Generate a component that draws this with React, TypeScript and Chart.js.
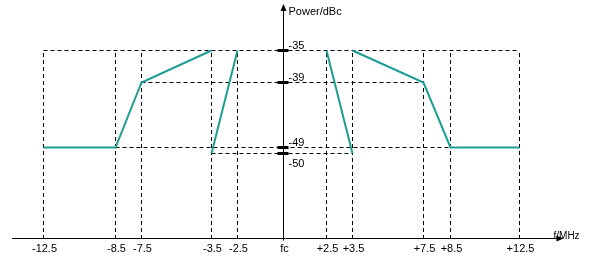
import React, { useEffect, useRef } from 'react';
import { Chart, registerables, LinearScale } from 'chart.js';

// Piecewise-linear scale: the reference uses a stylised (non-proportional) axis.
class PiecewiseScale extends (LinearScale as any) {
  static id = 'piecewise';
  static defaults = { ...(LinearScale as any).defaults };
  _u(v: number): number {
    const o = (this as any).options;
    const knots: number[] = o.knots;
    const spans: number[] = o.spans;
    const slope: number = o.outerSlope;
    if (v <= knots[0]) return (v - knots[0]) * slope;
    let acc = 0;
    for (let i = 0; i < knots.length - 1; i++) {
      if (v <= knots[i + 1]) {
        return acc + ((v - knots[i]) / (knots[i + 1] - knots[i])) * spans[i];
      }
      acc += spans[i];
    }
    return acc + (v - knots[knots.length - 1]) * slope;
  }
  getPixelForValue(value: number) {
    if (value === null || value === undefined || isNaN(value)) return NaN;
    const self = this as any;
    const u0 = this._u(self.min);
    const u1 = this._u(self.max);
    return self.getPixelForDecimal((this._u(value) - u0) / (u1 - u0));
  }
  getValueForPixel(pixel: number) {
    const self = this as any;
    const d = self.getDecimalForPixel(pixel);
    return self.min + d * (self.max - self.min);
  }
}

Chart.register(...registerables, PiecewiseScale as any);

// ---- data ----
const freqTicks = [-12.5, -8.5, -7.5, -3.5, -2.5, 0, 2.5, 3.5, 7.5, 8.5, 12.5];
const freqLabels = ['-12.5', '-8.5', '-7.5', '-3.5', '-2.5', 'fc', '+2.5', '+3.5', '+7.5', '+8.5', '+12.5'];
const powerTicks = [-35, -39, -49, -50];
const powerLabels = ['-35', '-39', '-49', '-50'];
const powerLabelBelow = [false, false, false, true];

// mask segments (teal)
const outerLowFreq = [-12.5, -8.5, -7.5, -3.5];
const outerLowPower = [-49, -49, -39, -35];
const innerLowFreq = [-3.5, -2.5];
const innerLowPower = [-50, -35];
const innerHighFreq = [2.5, 3.5];
const innerHighPower = [-35, -50];
const outerHighFreq = [3.5, 7.5, 8.5, 12.5];
const outerHighPower = [-35, -39, -49, -49];

// dashed guide lines
const guideLevels = [-35, -39, -49, -50];
const guideFrom = [-12.5, -7.5, -8.5, -3.5];
const guideTo = [12.5, 7.5, 8.5, 3.5];

// axis styling (display spans of the stylised axes)
const xSpans = [72, 26, 70, 26, 46, 43, 26, 71, 27, 69];
const ySpans = [6, 65, 32];
const X_MIN = -12.5 - 31 / 19;
const X_MAX = 12.5 + 46 / 19;
const Y_MIN = -50 - 85.5 / 7;
const Y_MAX = -35 + 46 / 7;

const FONT = '"Liberation Sans", Arial, sans-serif';

const axesPlugin = {
  id: 'maskAxes',
  afterDatasetsDraw(chart: any) {
    const { ctx, chartArea, scales } = chart;
    const xs = scales.x;
    const ys = scales.y;
    const x0 = Math.floor(xs.getPixelForValue(0)) + 0.5;
    const yb = Math.round(ys.getPixelForValue(Y_MIN)) - 0.5;
    const top = Math.floor(chartArea.top);
    const right = chartArea.right - 2;
    ctx.save();
    ctx.strokeStyle = '#000';
    ctx.fillStyle = '#000';
    ctx.lineWidth = 1;
    ctx.setLineDash([]);
    // x axis
    ctx.beginPath();
    ctx.moveTo(12, yb);
    ctx.lineTo(right - 4, yb);
    ctx.stroke();
    ctx.beginPath();
    ctx.moveTo(right, yb);
    ctx.lineTo(right - 7, yb - 3);
    ctx.lineTo(right - 7, yb + 3);
    ctx.closePath();
    ctx.fill();
    // y axis
    ctx.beginPath();
    ctx.moveTo(x0, yb + 2);
    ctx.lineTo(x0, top + 4);
    ctx.stroke();
    ctx.beginPath();
    ctx.moveTo(x0, top);
    ctx.lineTo(x0 - 3, top + 7);
    ctx.lineTo(x0 + 3, top + 7);
    ctx.closePath();
    ctx.fill();

    // y ticks + labels
    ctx.font = `11px ${FONT}`;
    ctx.textAlign = 'left';
    powerTicks.forEach((v, i) => {
      const py = ys.getPixelForValue(v);
      ctx.lineWidth = 3;
      ctx.beginPath();
      ctx.moveTo(x0 - 6, py);
      ctx.lineTo(x0 + 5, py);
      ctx.stroke();
      if (powerLabelBelow[i]) {
        ctx.textBaseline = 'top';
        ctx.fillText(powerLabels[i], x0 + 5, py + 5);
      } else {
        ctx.textBaseline = 'alphabetic';
        ctx.fillText(powerLabels[i], x0 + 5, py - 2);
      }
    });

    // x labels
    ctx.textAlign = 'center';
    ctx.textBaseline = 'middle';
    freqTicks.forEach((f, i) => {
      ctx.fillText(freqLabels[i], xs.getPixelForValue(f) + 1, yb + 10);
    });

    // axis titles
    ctx.textAlign = 'left';
    ctx.fillText('Power/dBc', x0 + 5, top + 8);
    ctx.font = `10px ${FONT}`;
    ctx.fillText('f/MHz', right - 10, yb - 2);
    ctx.restore();
  },
};

export default function App() {
  const ref = useRef<HTMLCanvasElement>(null);

  useEffect(() => {
    if (!ref.current) return;
    const pts = (xs: number[], ys: number[]) => xs.map((x, i) => ({ x, y: ys[i] }));
    const teal = {
      showLine: true,
      borderColor: '#1c9d96',
      borderWidth: 2,
      pointRadius: 0,
      fill: false,
      order: 0,
    };
    const dashed = {
      showLine: true,
      borderColor: '#000',
      borderWidth: 1,
      borderDash: [4, 3],
      pointRadius: 0,
      fill: false,
      order: 1,
    };
    const topLevel = Math.max(...powerTicks);
    const datasets: any[] = [
      { ...teal, data: pts(outerLowFreq, outerLowPower) },
      { ...teal, data: pts(innerLowFreq, innerLowPower) },
      { ...teal, data: pts(innerHighFreq, innerHighPower) },
      { ...teal, data: pts(outerHighFreq, outerHighPower) },
      ...guideLevels.map((lvl, i) => ({
        ...dashed,
        data: [
          { x: guideFrom[i], y: lvl },
          { x: guideTo[i], y: lvl },
        ],
      })),
      ...freqTicks
        .filter((f) => f !== 0)
        .map((f) => ({
          ...dashed,
          data: [
            { x: f, y: Y_MIN },
            { x: f, y: topLevel },
          ],
        })),
    ];

    const chart = new Chart(ref.current, {
      type: 'scatter',
      data: { datasets },
      options: {
        responsive: false,
        animation: false,
        layout: { padding: { left: 12.5, right: 29.5, top: 4.5, bottom: 18 } },
        plugins: {
          legend: { display: false },
          tooltip: { enabled: false },
        },
        scales: {
          x: {
            type: 'piecewise',
            display: false,
            min: X_MIN,
            max: X_MAX,
            knots: freqTicks,
            spans: xSpans,
            outerSlope: 19,
          },
          y: {
            type: 'piecewise',
            display: false,
            min: Y_MIN,
            max: Y_MAX,
            knots: [...powerTicks].sort((a, b) => a - b),
            spans: ySpans,
            outerSlope: 7,
          },
        },
      },
      plugins: [axesPlugin],
    } as any);
    return () => chart.destroy();
  }, []);

  return (
    <div style={{ position: 'fixed', left: 0, top: 0, width: 595, height: 257, background: '#fff' }}>
      <canvas ref={ref} width={595} height={257} style={{ display: 'block' }} />
    </div>
  );
}
